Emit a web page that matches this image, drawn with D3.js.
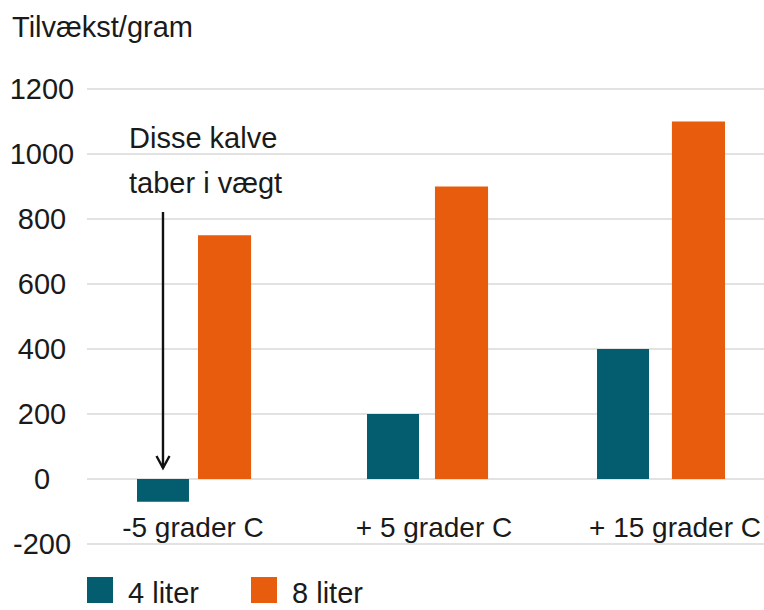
<!DOCTYPE html>
<html>
<head>
<meta charset="utf-8">
<script src="https://cdn.jsdelivr.net/npm/d3@7"></script>
<style>
  body { margin: 0; background: #fff; }
  svg text { font-family: "Liberation Sans", Arial, sans-serif; fill: #1a1a1a; }
</style>
</head>
<body>
<svg id="chart" width="764" height="610"></svg>
<script>
// data
var categories = ["-5 grader C", "+ 5 grader C", "+ 15 grader C"];
var seriesNames = ["4 liter", "8 liter"];
var liter4 = [-70, 200, 400];
var liter8 = [750, 900, 1100];
var yTicks = [-200, 0, 200, 400, 600, 800, 1000, 1200];
var colors = ["#045d6e", "#e85c0d"];

var svg = d3.select("#chart");

var y = d3.scaleLinear().domain([-200, 1200]).range([544, 89]);

// the two series are not spaced quite evenly in the original, so each gets its own band scale
var xTeal = d3.scaleBand().domain(categories).range([137, 649]).paddingInner(0.774);
var xOrange = d3.scaleBand().domain(categories).range([198, 725]).paddingInner(0.776);
var xScales = [xTeal, xOrange];
var xLabel = d3.scalePoint().domain(categories).range([193, 675]);

// gridlines + tick labels
var grid = svg.append("g");
grid.selectAll("line")
  .data(yTicks)
  .enter().append("line")
  .attr("x1", 87).attr("x2", 764)
  .attr("y1", function(d) { return y(d); })
  .attr("y2", function(d) { return y(d); })
  .attr("stroke", "#e2e2e2")
  .attr("stroke-width", 2);

grid.selectAll("text")
  .data(yTicks)
  .enter().append("text")
  .attr("x", 42)
  .attr("y", function(d) { return y(d); })
  .attr("dy", "0.36em")
  .attr("text-anchor", "middle")
  .style("font-size", "29px")
  .text(function(d) { return d; });

// title
svg.append("text")
  .attr("x", 12).attr("y", 37)
  .style("font-size", "29px")
  .text("Tilvækst/gram");

// bars
[liter4, liter8].forEach(function(vals, j) {
  var xs = xScales[j];
  svg.append("g").selectAll("rect")
    .data(vals)
    .enter().append("rect")
    .attr("x", function(d, i) { return xs(categories[i]); })
    .attr("width", xs.bandwidth())
    .attr("y", function(d) { return y(Math.max(0, d)); })
    .attr("height", function(d) { return Math.abs(y(d) - y(0)); })
    .attr("fill", colors[j]);
});

// category labels
svg.selectAll("text.cat")
  .data(categories)
  .enter().append("text")
  .attr("class", "cat")
  .attr("x", function(d) { return xLabel(d); })
  .attr("y", 537)
  .attr("text-anchor", "middle")
  .style("font-size", "28px")
  .text(function(d) { return d; });

// annotation
var ann = svg.append("text")
  .attr("x", 129).attr("y", 148)
  .style("font-size", "29px");
ann.append("tspan").attr("x", 129).text("Disse kalve");
ann.append("tspan").attr("x", 129).attr("dy", 45).text("taber i vægt");

var arrowX = xTeal(categories[0]) + xTeal.bandwidth() / 2;
var tipY = y(0) - 11;
svg.append("line")
  .attr("x1", arrowX).attr("x2", arrowX)
  .attr("y1", 212).attr("y2", tipY)
  .attr("stroke", "#111")
  .attr("stroke-width", 2.4);
svg.append("path")
  .attr("d", "M" + (arrowX - 6.5) + "," + (tipY - 12) + " L" + arrowX + "," + tipY + " L" + (arrowX + 6.5) + "," + (tipY - 12))
  .attr("fill", "none")
  .attr("stroke", "#111")
  .attr("stroke-width", 2.4);

// legend
var leg = svg.selectAll("g.leg")
  .data(seriesNames)
  .enter().append("g")
  .attr("class", "leg")
  .attr("transform", function(d, i) { return "translate(" + (87 + i * 164) + ",577)"; });
leg.append("rect")
  .attr("width", 26).attr("height", 26)
  .attr("fill", function(d, i) { return colors[i]; });
leg.append("text")
  .attr("x", 41).attr("y", 26)
  .style("font-size", "29px")
  .text(function(d) { return d; });
</script>
</body>
</html>
